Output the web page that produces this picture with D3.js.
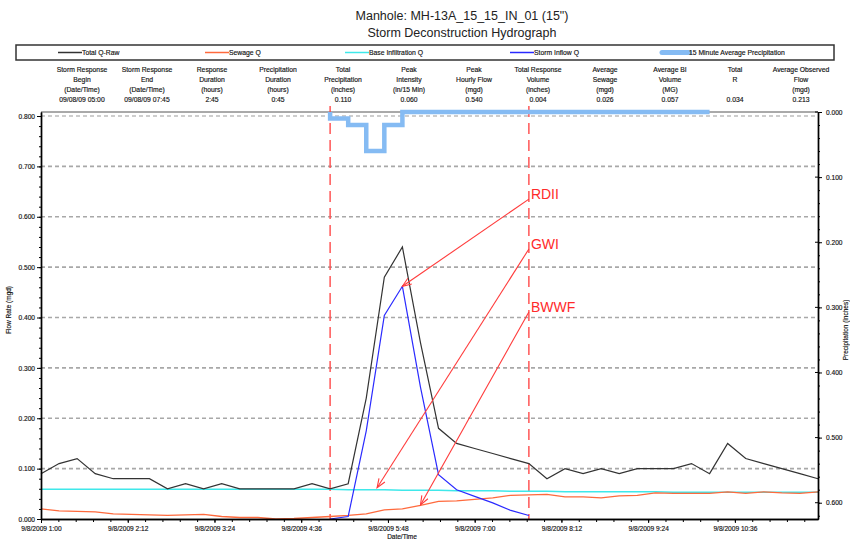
<!DOCTYPE html>
<html>
<head>
<meta charset="utf-8">
<script src="https://cdn.jsdelivr.net/npm/d3@7"></script>
<style>
  body { margin: 0; background: #fff; }
  svg { font-family: "Liberation Sans", Arial, sans-serif; }
  .tick text { fill: #111; }
  .small { fill: #111; stroke: #111; stroke-width: 0.15; }
</style>
</head>
<body>
<svg id="chart" width="850" height="542"></svg>
<script>
// ---- data (15 minute steps, 9/8/2009 01:00 - 11:45) ----
var startTime = new Date(2009, 8, 8, 1, 0);
var stepMinutes = 15;

var totalQRaw = [0.09, 0.11, 0.12, 0.09, 0.08, 0.08, 0.08, 0.06, 0.07, 0.06, 0.07, 0.06,
  0.06, 0.06, 0.06, 0.07, 0.06, 0.07, 0.24, 0.48, 0.54, 0.35, 0.18, 0.15,
  0.14, 0.13, 0.12, 0.11, 0.08, 0.10, 0.09, 0.10, 0.09, 0.10, 0.10, 0.10,
  0.11, 0.09, 0.15, 0.12, 0.11, 0.10, 0.09, 0.08];

var sewageQ = [0.020, 0.016, 0.015, 0.014, 0.010, 0.009, 0.008, 0.007, 0.008, 0.009, 0.005, 0.003,
  0.003, 0.000, 0.001, 0.003, 0.005, 0.007, 0.010, 0.018, 0.020, 0.027, 0.035, 0.036,
  0.039, 0.042, 0.047, 0.048, 0.049, 0.044, 0.044, 0.042, 0.046, 0.047, 0.052, 0.051,
  0.051, 0.051, 0.054, 0.051, 0.054, 0.052, 0.051, 0.054];

var baseInfiltrationQ = [0.059, 0.059, 0.059, 0.059, 0.059, 0.059, 0.059, 0.059, 0.059, 0.059, 0.059, 0.059,
  0.059, 0.059, 0.059, 0.059, 0.059, 0.058, 0.058, 0.058, 0.057, 0.057, 0.057, 0.056,
  0.056, 0.056, 0.055, 0.055, 0.055, 0.054, 0.054, 0.054, 0.054, 0.054, 0.054, 0.053,
  0.053, 0.053, 0.053, 0.053, 0.053, 0.053, 0.053, 0.053];

// storm inflow only exists during the storm response window (05:00 - 07:45)
var stormStartIndex = 16;
var stormInflowQ = [0.000, 0.005, 0.175, 0.404, 0.462, 0.262, 0.088, 0.058, 0.045, 0.032, 0.017, 0.007];

// 15 minute precipitation (inches), stamped at end of interval, 05:00 - 10:15
var precipStartIndex = 16;
var precipitation = [0, 0.01, 0.02, 0.06, 0.02, 0, 0, 0, 0, 0, 0, 0,
  0, 0, 0, 0, 0, 0, 0, 0, 0, 0];

var responseBegin = new Date(2009, 8, 8, 5, 0);
var responseEnd = new Date(2009, 8, 8, 7, 45);

var seriesNames = ["Total Q-Raw", "Sewage Q", "Base Infiltration Q", "Storm Inflow Q", "15 Minute Average Precipitation"];
var seriesColors = ["#333333", "#ff6a3d", "#3fe8ea", "#2a2aff", "#85bbf3"];

var statHeaders = [
  ["Storm Response", "Begin", "(Date/Time)"],
  ["Storm Response", "End", "(Date/Time)"],
  ["Response", "Duration", "(hours)"],
  ["Precipitation", "Duration", "(hours)"],
  ["Total", "Precipitation", "(inches)"],
  ["Peak", "Intensity", "(in/15 Min)"],
  ["Peak", "Hourly Flow", "(mgd)"],
  ["Total Response", "Volume", "(inches)"],
  ["Average", "Sewage", "(mgd)"],
  ["Average BI", "Volume", "(MG)"],
  ["Total", "R", ""],
  ["Average Observed", "Flow", "(mgd)"]
];
var statValues = ["09/08/09 05:00", "09/08/09 07:45", "2:45", "0:45", "0.110", "0.060",
  "0.540", "0.004", "0.026", "0.057", "0.034", "0.213"];

// annotations: label, where the text sits (flow units at response end), what it points to
var annotations = [
  { label: "RDII", textFlow: 0.635, target: new Date(2009, 8, 8, 6, 0), targetFlow: 0.462 },
  { label: "GWI", textFlow: 0.536, target: new Date(2009, 8, 8, 5, 39), targetFlow: 0.062 },
  { label: "BWWF", textFlow: 0.411, target: new Date(2009, 8, 8, 6, 15), targetFlow: 0.028 }
];

var flowTicks = [0, 0.1, 0.2, 0.3, 0.4, 0.5, 0.6, 0.7, 0.8];
var precipTicks = [0, 0.1, 0.2, 0.3, 0.4, 0.5, 0.6];

// ---- layout ----
var svg = d3.select("#chart");
var plotL = 41, plotR = 818, plotT = 112, plotB = 519;
var endTime = new Date(2009, 8, 8, 11, 45);

var timeAt = function (i) { return new Date(+startTime + i * stepMinutes * 60000); };

var x = d3.scaleTime().domain([startTime, endTime]).range([plotL, plotR]);
var yL = d3.scaleLinear().domain([0, 0.808]).range([plotB, plotT]);
var yR = d3.scaleLinear().domain([0, 0.625]).range([plotT, plotB]);

// titles
svg.append("text").attr("x", 462).attr("y", 20).attr("text-anchor", "middle")
  .attr("font-size", 12.5).attr("fill", "#222").text("Manhole: MH-13A_15_15_IN_01 (15\")");
svg.append("text").attr("x", 462).attr("y", 37).attr("text-anchor", "middle")
  .attr("font-size", 12.5).attr("fill", "#222").text("Storm Deconstruction Hydrograph");

// legend box
svg.append("rect").attr("x", 16).attr("y", 45).attr("width", 818).attr("height", 15)
  .attr("fill", "none").attr("stroke", "#333").attr("stroke-width", 1.5);
var legendX = [58, 205, 345, 510, 662];
seriesNames.forEach(function (name, i) {
  var g = svg.append("g").attr("transform", "translate(" + legendX[i] + ",52.5)");
  var isPrecip = i === 4;
  g.append("line").attr("x1", 0).attr("x2", isPrecip ? 27 : 24)
    .attr("stroke", seriesColors[i]).attr("stroke-width", isPrecip ? 5 : 1.5)
    .attr("stroke-linecap", isPrecip ? "round" : "butt");
  g.append("text").attr("class", "small").attr("x", isPrecip ? 27 : 24).attr("y", 2.3)
    .attr("font-size", 6.8).text(name);
});

// stats table
var statColX = [82, 147, 212, 278, 343, 409, 474, 538, 605, 670, 735, 801];
statHeaders.forEach(function (lines, c) {
  var g = svg.append("g").attr("class", "small").attr("font-size", 6.8).attr("text-anchor", "middle");
  lines.forEach(function (s, r) {
    g.append("text").attr("x", statColX[c]).attr("y", 71.5 + r * 10).text(s);
  });
  g.append("text").attr("x", statColX[c]).attr("y", 101.5).text(statValues[c]);
});

// gridlines
svg.append("g").selectAll("line").data(flowTicks.slice(1)).join("line")
  .attr("x1", plotL).attr("x2", plotR)
  .attr("y1", function (d) { return yL(d); }).attr("y2", function (d) { return yL(d); })
  .attr("stroke", function (d) { return d === 0.8 ? "#bdbdbd" : "#a8a8a8"; })
  .attr("stroke-width", 1.6).attr("stroke-dasharray", "4,3");

// top frame line
svg.append("line").attr("x1", plotL).attr("x2", plotR).attr("y1", plotT).attr("y2", plotT)
  .attr("stroke", "#555").attr("stroke-width", 1);

// storm response window
svg.append("g").selectAll("line").data([responseBegin, responseEnd]).join("line")
  .attr("x1", function (d) { return x(d); }).attr("x2", function (d) { return x(d); })
  .attr("y1", 106).attr("y2", plotB)
  .attr("stroke", "#ff4a4a").attr("stroke-width", 1.4).attr("stroke-dasharray", "11,6");

// series lines
var flowLine = d3.line().x(function (d) { return x(d.t); }).y(function (d) { return yL(d.v); });
var toPoints = function (arr, offset) {
  return arr.map(function (v, i) { return { t: timeAt(i + offset), v: v }; });
};
var flowSeries = [
  { data: toPoints(baseInfiltrationQ, 0), color: seriesColors[2], w: 1.6 },
  { data: toPoints(sewageQ, 0), color: seriesColors[1], w: 1.3 },
  { data: toPoints(stormInflowQ, stormStartIndex), color: seriesColors[3], w: 1.2 },
  { data: toPoints(totalQRaw, 0), color: seriesColors[0], w: 1.2 }
];
svg.append("g").selectAll("path").data(flowSeries).join("path")
  .attr("d", function (d) { return flowLine(d.data); })
  .attr("fill", "none").attr("stroke", function (d) { return d.color; })
  .attr("stroke-width", function (d) { return d.w; });

// precipitation (inverted right axis)
var precipLine = d3.line().curve(d3.curveStepBefore)
  .x(function (d) { return x(d.t); }).y(function (d) { return yR(d.v); });
svg.append("path").datum(toPoints(precipitation, precipStartIndex))
  .attr("d", precipLine).attr("fill", "none")
  .attr("stroke", seriesColors[4]).attr("stroke-width", 4.5);

// annotations
svg.append("defs").append("marker").attr("id", "arrow")
  .attr("viewBox", "-10 -5 12 10").attr("refX", 0).attr("refY", 0)
  .attr("markerWidth", 12).attr("markerHeight", 10).attr("markerUnits", "userSpaceOnUse")
  .attr("orient", "auto")
  .append("path").attr("d", "M-9,-3.5 L0,0 L-9,3.5").attr("fill", "none")
  .attr("stroke", "#ff3b3b").attr("stroke-width", 1.1);
var ann = svg.append("g").selectAll("g").data(annotations).join("g");
ann.append("line")
  .attr("x1", x(responseEnd)).attr("y1", function (d) { return yL(d.textFlow); })
  .attr("x2", function (d) { return x(d.target); }).attr("y2", function (d) { return yL(d.targetFlow); })
  .attr("stroke", "#ff3b3b").attr("stroke-width", 1.1).attr("marker-end", "url(#arrow)");
ann.append("text").attr("x", x(responseEnd) + 2).attr("y", function (d) { return yL(d.textFlow); })
  .attr("font-size", 14).attr("fill", "#ff2a2a").text(function (d) { return d.label; });

// axes
var styleAxis = function (g) {
  g.selectAll(".domain").attr("stroke", "#000").attr("stroke-width", 1.4);
  g.selectAll(".tick line").attr("stroke", "#000").attr("stroke-width", 1);
  g.selectAll(".tick text").attr("class", "small").attr("font-size", 6.6)
    .attr("font-family", "Liberation Sans, Arial, sans-serif");
};
var fmtTime = d3.timeFormat("%-m/%-d/%Y %-H:%M");
var majorTimes = d3.range(0, 646, 72).map(function (m) { return new Date(+startTime + m * 60000); });
var minorTimes = d3.range(0, 646, 14.4).map(function (m) { return new Date(+startTime + m * 60000); });

svg.append("g").attr("transform", "translate(0," + plotB + ")")
  .call(d3.axisBottom(x).tickValues(minorTimes).tickSize(3).tickSizeOuter(0).tickFormat(""))
  .call(styleAxis);
svg.append("g").attr("transform", "translate(0," + plotB + ")")
  .call(d3.axisBottom(x).tickValues(majorTimes).tickSize(4).tickSizeOuter(0).tickFormat(fmtTime).tickPadding(3))
  .call(styleAxis);

var flowMinor = d3.range(41).map(function (i) { return i * 0.02; });
svg.append("g").attr("transform", "translate(" + plotL + ",0)")
  .call(d3.axisLeft(yL).tickValues(flowMinor).tickSize(2).tickSizeOuter(0).tickFormat(""))
  .call(styleAxis);
svg.append("g").attr("transform", "translate(" + plotL + ",0)")
  .call(d3.axisLeft(yL).tickValues(flowTicks).tickSize(4).tickSizeOuter(0).tickFormat(d3.format(".3f")).tickPadding(2))
  .call(styleAxis);

var precipMinor = d3.range(32).map(function (i) { return i * 0.02; });
svg.append("g").attr("transform", "translate(" + plotR + ",0)")
  .call(d3.axisRight(yR).tickValues(precipMinor).tickSize(2).tickSizeOuter(0).tickFormat(""))
  .call(styleAxis);
svg.append("g").attr("transform", "translate(" + plotR + ",0)")
  .call(d3.axisRight(yR).tickValues(precipTicks).tickSize(4).tickSizeOuter(0).tickFormat(d3.format(".3f")).tickPadding(4))
  .call(styleAxis);
// right major ticks cross the axis
svg.append("g").selectAll("line").data(precipTicks).join("line")
  .attr("x1", plotR - 3).attr("x2", plotR)
  .attr("y1", function (d) { return yR(d); }).attr("y2", function (d) { return yR(d); })
  .attr("stroke", "#000");

// axis titles
svg.append("text").attr("class", "small").attr("transform", "translate(11,310) rotate(-90)")
  .attr("text-anchor", "middle").attr("font-size", 6.5).text("Flow Rate (mgd)");
svg.append("text").attr("class", "small").attr("transform", "translate(848,330) rotate(-90)")
  .attr("text-anchor", "middle").attr("font-size", 6.5).text("Precipitation (inches)");
svg.append("text").attr("class", "small").attr("x", 402).attr("y", 539)
  .attr("text-anchor", "middle").attr("font-size", 6.5).text("Date/Time");
</script>
</body>
</html>
